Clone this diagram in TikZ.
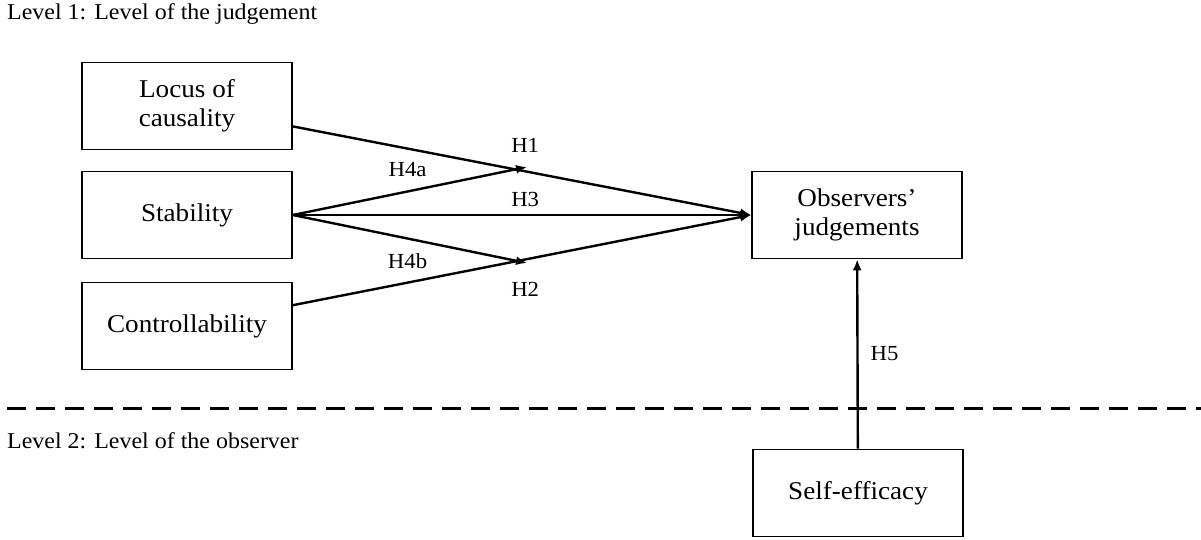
\documentclass[tikz,border=0pt]{standalone}
\usepackage{fontspec}
\setmainfont{Liberation Serif}[FakeStretch=1.06]
\usepackage{tikz}
\usetikzlibrary{arrows.meta}

\begin{document}
\begin{tikzpicture}[x=1pt, y=-1pt, align=center,
    box/.style={draw, line width=1.6pt, minimum width=210pt, minimum height=87pt, inner sep=0pt,
        font=\fontsize{25.6}{29}\selectfont},
    lbl/.style={font=\fontsize{21.5}{24}\selectfont},
    lvl/.style={anchor=west, inner sep=0pt, font=\fontsize{22.6}{26}\selectfont},
    arr/.style={line width=2.4pt, -{Latex[length=11pt,width=9pt]}}]
        \useasboundingbox (0,0) rectangle (1201,540);

        \node[lvl](Level1) at (7,14) {Level 1: Level of the judgement};
        \node[lvl](Level2) at (7,441) {Level 2: Level of the observer};

        \node[box](Locus) at (187,106) {Locus of\\causality};
        \node[box](Stability) at (187,215) {Stability};
        \node[box](Controllability) at (187,326) {Controllability};
        \node[box](Judgements) at (857,215) {Observers'\\judgements};
        \node[box](Selfefficacy) at (858,493) {Self-efficacy};

        \coordinate (H4a end) at (527,167);
        \coordinate (H4b end) at (527,263);

        \draw[line width=3pt, dash pattern=on 19pt off 10pt] (7,408) -- (1201,408);

        \draw[arr] (Locus) -- node[lbl, pos=0.507, yshift=26pt]{H1} (Judgements.west);
        \draw[arr] (Stability) -- node[lbl, pos=0.507, yshift=16pt]{H3} (Judgements.west);
        \draw[arr] (Controllability) -- node[lbl, pos=0.507, yshift=-30pt]{H2} (Judgements.west);
        \draw[arr] (Stability.east) -- node[lbl, pos=0.49, yshift=22pt]{H4a} (H4a end);
        \draw[arr] (Stability.east) -- node[lbl, pos=0.49, yshift=-23pt]{H4b} (H4b end);
        \draw[arr] (Selfefficacy) -- node[lbl, pos=0.5, xshift=27pt]{H5} (Judgements);
    \end{tikzpicture}
\end{document}
